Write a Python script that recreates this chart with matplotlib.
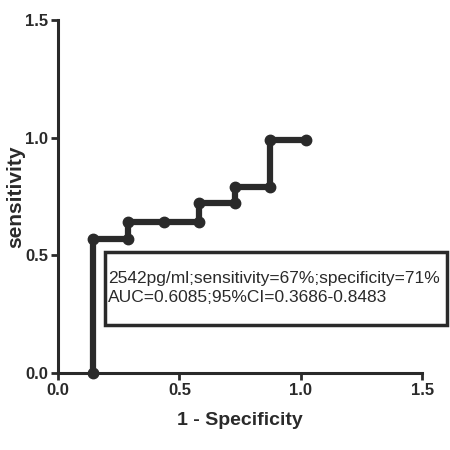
import matplotlib.pyplot as plt
from matplotlib.patches import Rectangle

# ROC steps
fpr = [0.145, 0.145, 0.29, 0.29, 0.435, 0.58, 0.58, 0.73, 0.73, 0.875, 0.875, 1.02]
tpr = [0.0, 0.57, 0.57, 0.64, 0.64, 0.64, 0.72, 0.72, 0.79, 0.79, 0.99, 0.99]
ticks = [0.0, 0.5, 1.0, 1.5]
tick_labels = ['0.0', '0.5', '1.0', '1.5']
note = '2542pg/ml;sensitivity=67%;specificity=71%\nAUC=0.6085;95%CI=0.3686-0.8483'

font = ['Liberation Sans', 'DejaVu Sans']
ink = '#2a2a2a'

fig = plt.figure(figsize=(4.5, 4.5), dpi=100)
ax = fig.add_axes([0.129, 0.171, 0.809, 0.785])

ax.plot(fpr, tpr, color=ink, lw=4.5, marker='o', ms=7.5, solid_joinstyle='miter', clip_on=False)

ax.set_xlim(0, 1.5)
ax.set_ylim(0, 1.5)
ax.set_xticks(ticks)
ax.set_xticklabels(tick_labels)
ax.set_yticks(ticks)
ax.set_yticklabels(tick_labels)
for s in ['top', 'right']:
    ax.spines[s].set_visible(False)
for s in ['left', 'bottom']:
    ax.spines[s].set_linewidth(2.2)
    ax.spines[s].set_color(ink)
ax.tick_params(direction='out', length=5, width=2, color=ink, pad=2)
for lab in ax.get_xticklabels() + ax.get_yticklabels():
    lab.set_family(font)
    lab.set_fontweight('bold')
    lab.set_fontsize(12)
    lab.set_color(ink)

ax.set_xlabel('1 - Specificity', family=font, fontweight='bold', fontsize=14, color=ink, labelpad=10)
ax.set_ylabel('sensitivity', family=font, fontweight='bold', fontsize=15, color=ink)
ax.yaxis.set_label_coords(-0.09, 0.5)

# annotation box, partly outside the axes
fig.patches.append(Rectangle((105 / 450, 1 - 325 / 450), 342 / 450, 73 / 450,
                             transform=fig.transFigure, fill=False, lw=2.5, ec=ink))
fig.text(108 / 450, 1 - 288 / 450, note, family=font, fontsize=12.5, color=ink,
         va='center', ha='left', linespacing=1.3)

fig.savefig('out.png', dpi=100, facecolor='white')
